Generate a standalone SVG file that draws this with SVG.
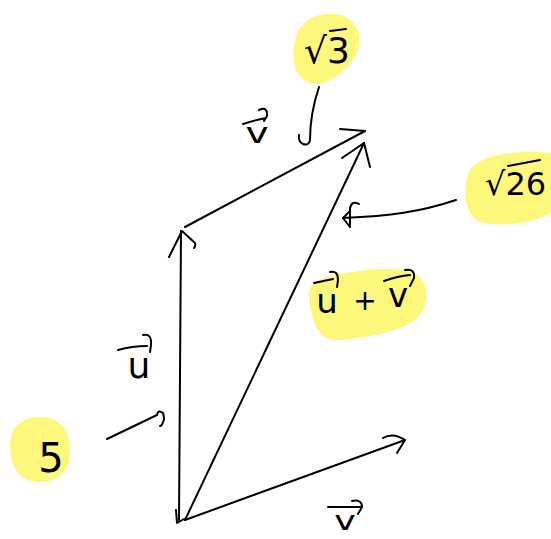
<svg xmlns="http://www.w3.org/2000/svg" width="551" height="539" viewBox="0 0 551 539">
<style>
.ink{fill:none;stroke:#000;stroke-width:2;stroke-linecap:round;stroke-linejoin:round}
.blob{fill:#fdf87c;stroke:none}
.t{font-family:"DejaVu Sans","Liberation Sans",sans-serif;fill:#000}
</style>
<rect width="551" height="539" fill="#fff"/>
<g id="connectors">
  <!-- u vector -->
  <path class="ink" d="M179,520 L181,231"/>
  <path class="ink" d="M169,257 L182,231 L195,243 Q196,246 194,248"/>
  <path class="ink" d="M176,510 L177,523 L184,519"/>
  <!-- upper v vector -->
  <path class="ink" d="M185,227 L365,131"/>
  <path class="ink" d="M340,129 L365,131"/>
  <!-- u+v vector -->
  <path class="ink" d="M185,520 L364,143"/>
  <path class="ink" d="M342,158 L364,143 L370,167"/>
  <!-- bottom v vector -->
  <path class="ink" d="M185,520 L405,440"/>
  <path class="ink" d="M383,438 Q393,432 405,440 L397,453"/>
  <!-- pointer from sqrt3 -->
  <path class="ink" d="M319,87 C313,105 310,125 310,140 Q309,146 303,144 Q298,142 299,135"/>
  <!-- pointer from sqrt26 -->
  <path class="ink" d="M456,200 C420,212 390,216 343,218"/>
  <path class="ink" d="M350,211 L343,218 L350,227"/>
  <path class="ink" d="M359,204 Q352,200 350,208 L350,227"/>
  <!-- pointer from 5 -->
  <path class="ink" d="M107,439 L157,415 Q158,409 163,413 Q165,420 163,422 Q162,426 160,426"/>
</g>
<g id="label-sqrt3">
  <path class="blob" d="M296,38 C300,20 318,12 335,14 C352,16 362,30 359,45 C356,60 345,72 330,80 C318,87 302,84 296,70 C292,60 293,48 296,38 Z"/>
  <text class="t" x="304" y="63" font-size="36">√3</text>
  <path class="ink" d="M330,31 L346,29"/>
</g>
<g id="label-sqrt26">
  <path class="blob" d="M470,170 C480,156 505,152 530,152 C545,152 551,153 551,153 L551,213 C535,222 505,228 480,222 C465,216 461,190 470,170 Z"/>
  <text class="t" x="485" y="195" font-size="32">√26</text>
  <path class="ink" d="M508,166 L540,160"/>
</g>
<g id="label-upv">
  <path class="blob" d="M309,298 C306,283 322,276 345,273 C372,269 400,265 417,275 C430,284 430,308 415,320 C398,332 365,338 340,340 C320,342 312,325 309,298 Z"/>
  <text class="t" x="327" y="313" font-size="34" text-anchor="middle">u</text>
  <path class="ink" d="M314,283 L333,279 M330,272 Q338,270 338,280 L337,287"/>
  <text class="t" x="365" y="310" font-size="28" text-anchor="middle">+</text>
  <text class="t" x="398" y="307" font-size="34" text-anchor="middle">v</text>
  <path class="ink" d="M384,281 Q398,276 410,275 M405,270 Q415,268 414,278 L410,286"/>
</g>
<g id="label-five">
  <path class="blob" d="M10,445 C10,425 25,416 42,417 C60,418 70,430 70,450 C70,470 60,482 40,482 C20,482 10,468 10,445 Z"/>
  <text class="t" x="51" y="472" font-size="40" text-anchor="middle">5</text>
</g>
<g id="label-u">
  <text class="t" x="139" y="378" font-size="36" text-anchor="middle">u</text>
  <path class="ink" d="M118,350 Q132,346 147,346 M143,335 Q152,333 151,345 L150,352"/>
</g>
<g id="label-v-top">
  <text class="t" x="257" y="143" font-size="28" text-anchor="middle" transform="translate(257 0) scale(1.4 1) translate(-257 0)">v</text>
  <path class="ink" d="M243,124 Q255,120 266,118 M259,110 Q268,106 267,116 L264,121"/>
</g>
<g id="label-v-bottom">
  <text class="t" x="345" y="530" font-size="26" text-anchor="middle" transform="translate(345 0) scale(1.4 1) translate(-345 0)">v</text>
  <path class="ink" d="M328,507 L362,507 M352,501 Q362,499 362,507 L358,514"/>
</g>
</svg>
